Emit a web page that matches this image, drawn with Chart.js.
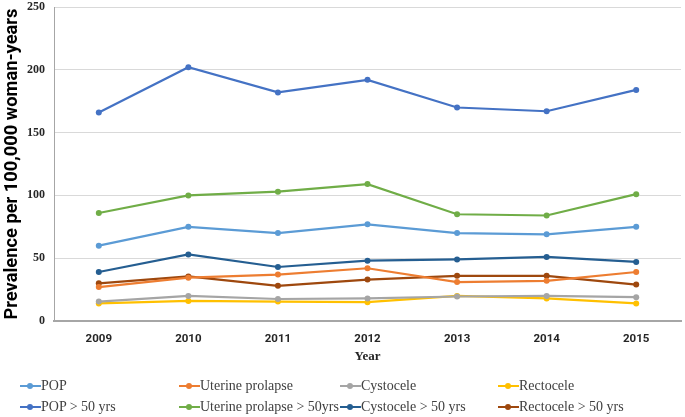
<!DOCTYPE html>
<html><head><meta charset="utf-8">
<script src="https://cdn.jsdelivr.net/npm/chart.js@4/dist/chart.umd.min.js"></script>
<style>
html,body{margin:0;padding:0;background:#fff;}
#wrap{position:relative;width:685px;height:417px;}
#legend{position:absolute;left:0;top:377px;width:685px;height:40px;font-family:"Liberation Serif","Times New Roman",serif;font-size:14px;color:#404040;}
.li{position:absolute;white-space:nowrap;line-height:18px;}
.mk{display:inline-block;position:relative;width:21px;height:18px;vertical-align:top;}
.mk .ln{position:absolute;left:0;top:8px;width:21px;height:2px;}
.mk .dt{position:absolute;left:7px;top:6px;width:6px;height:6px;border-radius:50%;}
</style></head>
<body><div id="wrap"><canvas id="c" width="685" height="417"></canvas><div id="legend"></div></div>
<script>
const years = ['2009','2010','2011','2012','2013','2014','2015'];
const seriesNames = ['POP','Uterine prolapse','Cystocele','Rectocele','POP > 50 yrs','Uterine prolapse > 50yrs','Cystocele > 50 yrs','Rectocele > 50 yrs'];
const pop = [60,75,70,77,70,69,75];
const uterine = [27,34.5,37,42,31,32,39];
const cystocele = [15.5,20,17.5,18,19.5,20,19];
const rectocele = [14,16,15.5,15,20,18,14];
const pop50 = [166,202,182,192,170,167,184];
const uterine50 = [86,100,103,109,85,84,101];
const cystocele50 = [39,53,43,48,49,51,47];
const rectocele50 = [30,35.5,28,33,36,36,29];
const colors = ['#5B9BD5','#ED7D31','#A5A5A5','#FFC000','#4472C4','#70AD47','#255E91','#9E480E'];
const allData = [pop,uterine,cystocele,rectocele,pop50,uterine50,cystocele50,rectocele50];

const datasets = allData.map((d,i)=>({
  label: seriesNames[i], data: d, borderColor: colors[i], backgroundColor: colors[i],
  borderWidth: 2.2, pointRadius: 3, pointBorderWidth: 0, tension: 0
}));

new Chart(document.getElementById('c'), {
  type: 'line',
  data: { labels: years, datasets },
  options: {
    responsive: false, animation: false,
    layout: { padding: { top: 7, right: 1, bottom: 46, left: 0 } },
    plugins: { legend: { display: false }, tooltip: { enabled: false } },
    scales: {
      x: {
        offset: true,
        grid: { display: false, drawTicks: false },
        border: { color: '#A6A6A6', width: 2 },
        ticks: { padding: 11, color: '#262626', font: { family: 'Roboto, "Liberation Sans", sans-serif', size: 11.5, weight: 'bold' } },
        title: { display: true, text: 'Year', color: '#262626', padding: { top: 2, bottom: 7 }, font: { family: '"Liberation Serif", serif', size: 13, weight: 'bold' } },
        afterFit: s => { s.height = 50; }
      },
      y: {
        min: 0, max: 250,
        ticks: { stepSize: 50, padding: 9, color: '#262626', font: { family: '"Liberation Serif", serif', size: 12, weight: 'bold' } },
        grid: { color: '#D9D9D9', drawTicks: false },
        border: { color: '#A6A6A6', width: 1 },
        title: { display: true, text: 'Prevalence per 100,000 woman-years', color: '#000', padding: { top: 1, bottom: 2 }, font: { family: 'Roboto, "Liberation Sans", sans-serif', size: 18.3, weight: 'bold' } },
        afterFit: s => { s.width = 54; s.paddingTop = 0; s.paddingBottom = 0; }
      }
    }
  }
});

const cols = [20,179,340,498];
const rows = [0,21];
const lg = document.getElementById('legend');
seriesNames.forEach((n,i)=>{
  const el = document.createElement('div');
  el.className = 'li';
  el.style.left = cols[i%4] + 'px';
  el.style.top = rows[Math.floor(i/4)] + 'px';
  el.innerHTML = '<span class="mk"><span class="ln" style="background:'+colors[i]+'"></span><span class="dt" style="background:'+colors[i]+'"></span></span>';
  el.appendChild(document.createTextNode(n));
  lg.appendChild(el);
});
</script>
</body></html>
